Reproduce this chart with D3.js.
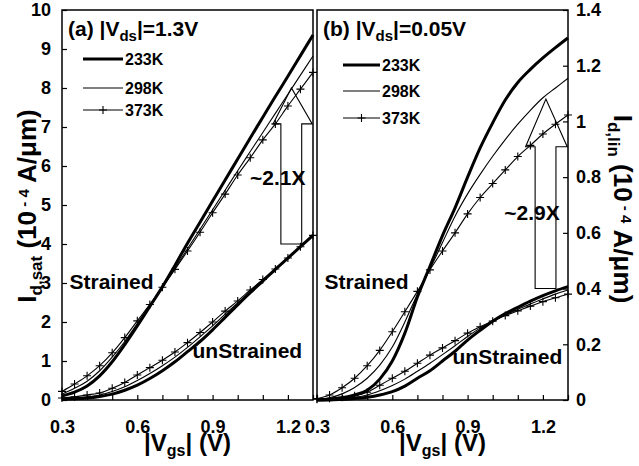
<!DOCTYPE html>
<html>
<head>
<meta charset="utf-8">
<script src="https://cdn.jsdelivr.net/npm/d3@7/dist/d3.min.js"></script>
<style>
body { margin: 0; background: #fff; }
svg text { font-family: Arial, "Liberation Sans", sans-serif; font-weight: bold; fill: #000; }
</style>
</head>
<body>
<svg width="639" height="466"></svg>
<script>
// gate voltage sweep (V)
var vgs = [0.3, 0.35, 0.4, 0.45, 0.5, 0.55, 0.6, 0.65, 0.7, 0.75, 0.8, 0.85, 0.9, 0.95, 1.0, 1.05, 1.1, 1.15, 1.2, 1.25, 1.3];
var temps = ["233K", "298K", "373K"];
var xTicks = [0.3, 0.4, 0.5, 0.6, 0.7, 0.8, 0.9, 1.0, 1.1, 1.2, 1.3];
var xTickLabels = [0.3, 0.6, 0.9, 1.2];
var satTicks = [0, 1, 2, 3, 4, 5, 6, 7, 8, 9, 10];
var linTicks = [0, 0.2, 0.4, 0.6, 0.8, 1.0, 1.2, 1.4];

// (a) Id,sat, |Vds|=1.3V  (1e-4 A/um)
var satStr233 = [0.1, 0.2, 0.36, 0.62, 0.98, 1.42, 1.9, 2.4, 2.9, 3.45, 4.02, 4.56, 5.1, 5.64, 6.18, 6.72, 7.25, 7.78, 8.3, 8.83, 9.36];
var satStr298 = [0.15, 0.3, 0.48, 0.75, 1.1, 1.5, 1.96, 2.42, 2.9, 3.38, 3.88, 4.38, 4.88, 5.38, 5.88, 6.37, 6.86, 7.35, 7.84, 8.33, 8.82];
var satStr373 = [0.22, 0.41, 0.62, 0.88, 1.21, 1.6, 2.03, 2.45, 2.89, 3.35, 3.82, 4.3, 4.8, 5.28, 5.77, 6.21, 6.67, 7.08, 7.54, 7.97, 8.4];
var satUns233 = [0.02, 0.03, 0.05, 0.09, 0.15, 0.25, 0.38, 0.55, 0.75, 0.98, 1.24, 1.5, 1.8, 2.12, 2.44, 2.75, 3.05, 3.35, 3.64, 3.93, 4.22];
var satUns298 = [0.03, 0.05, 0.08, 0.13, 0.22, 0.34, 0.5, 0.68, 0.88, 1.1, 1.35, 1.62, 1.9, 2.2, 2.49, 2.78, 3.07, 3.35, 3.64, 3.93, 4.21];
var satUns373 = [0.05, 0.08, 0.13, 0.18, 0.3, 0.45, 0.64, 0.83, 1.02, 1.23, 1.47, 1.73, 2.0, 2.28, 2.54, 2.82, 3.09, 3.36, 3.64, 3.93, 4.22];

// (b) Id,lin, |Vds|=0.05V  (1e-4 A/um)
var linStr233 = [0.0, 0.003, 0.008, 0.018, 0.035, 0.075, 0.14, 0.24, 0.37, 0.48, 0.59, 0.69, 0.8, 0.905, 0.995, 1.077, 1.14, 1.187, 1.228, 1.265, 1.3];
var linStr298 = [0.002, 0.008, 0.022, 0.045, 0.078, 0.125, 0.19, 0.28, 0.38, 0.47, 0.565, 0.66, 0.74, 0.81, 0.875, 0.935, 0.99, 1.04, 1.085, 1.12, 1.155];
var linStr373 = [0.005, 0.018, 0.044, 0.078, 0.123, 0.178, 0.245, 0.317, 0.39, 0.467, 0.535, 0.6, 0.668, 0.727, 0.777, 0.826, 0.874, 0.914, 0.955, 0.99, 1.023];
var linUns233 = [0.0, 0.0, 0.002, 0.005, 0.01, 0.018, 0.03, 0.05, 0.078, 0.105, 0.14, 0.175, 0.215, 0.25, 0.283, 0.31, 0.333, 0.355, 0.375, 0.392, 0.407];
var linUns298 = [0.001, 0.003, 0.006, 0.01, 0.018, 0.033, 0.052, 0.075, 0.103, 0.132, 0.163, 0.195, 0.228, 0.258, 0.283, 0.305, 0.325, 0.345, 0.363, 0.38, 0.395];
var linUns373 = [0.003, 0.006, 0.01, 0.015, 0.028, 0.053, 0.078, 0.103, 0.132, 0.161, 0.187, 0.213, 0.24, 0.263, 0.283, 0.303, 0.32, 0.337, 0.353, 0.367, 0.38];

var svg = d3.select("svg");
var plotTop = 10, plotBottom = 400;
var widths = [3, 1.1, 1.1];

var panels = [
  {
    left: 62, right: 313, yMax: 10, ticks: satTicks, side: "left",
    series: [[satStr233, satStr298, satStr373], [satUns233, satUns298, satUns373]],
    title: ["(a) |V", "ds", "|=1.3V"], titleX: 68,
    legendX: [83, 123], legendY: [59, 88, 110],
    arrow: { x0: 1.172, x1: 1.255, h0: 1.141, h1: 1.297, tip: 1.214, base: 4.0, neck: 7.08, apex: 8.0 },
    gain: "~2.1X", gainAt: [1.049, 5.51],
    strained: [0.33, 2.85], unstrained: [0.82, 1.08]
  },
  {
    left: 317, right: 568, yMax: 1.4, ticks: linTicks, side: "right",
    series: [[linStr233, linStr298, linStr373], [linUns233, linUns298, linUns373]],
    title: ["(b) |V", "ds", "|=0.05V"], titleX: 323,
    legendX: [343, 380], legendY: [65, 91, 118],
    arrow: { x0: 1.169, x1: 1.252, h0: 1.131, h1: 1.297, tip: 1.212, base: 0.4, neck: 0.909, apex: 1.08 },
    gain: "~2.9X", gainAt: [1.046, 0.646],
    strained: [0.33, 0.4], unstrained: [0.84, 0.13]
  }
];

function plus(g, px, py) {
  g.append("path")
    .attr("d", "M" + (px - 4) + "," + py + "H" + (px + 4) + "M" + px + "," + (py - 4) + "V" + (py + 4))
    .attr("stroke", "#000").attr("stroke-width", 1.1).attr("fill", "none");
}

panels.forEach(function(p) {
  var x = d3.scaleLinear().domain([0.3, 1.3]).range([p.left, p.right]);
  var y = d3.scaleLinear().domain([0, p.yMax]).range([plotBottom, plotTop]);
  var g = svg.append("g");

  var line = d3.line()
    .x(function(d, i) { return x(vgs[i]); })
    .y(function(d) { return y(d); })
    .curve(d3.curveMonotoneX);

  p.series.forEach(function(group) {
    group.forEach(function(vals, k) {
      g.append("path").datum(vals)
        .attr("d", line)
        .attr("fill", "none")
        .attr("stroke", "#000")
        .attr("stroke-width", widths[k]);
      if (k == 2) {
        vals.forEach(function(d, i) { plus(g, x(vgs[i]), y(d)); });
      }
    });
  });

  // hollow arrow
  var a = p.arrow;
  var pts = [[a.x0, a.base], [a.x0, a.neck], [a.h0, a.neck], [a.tip, a.apex], [a.h1, a.neck], [a.x1, a.neck], [a.x1, a.base]];
  g.append("path")
    .attr("d", "M" + pts.map(function(d) { return x(d[0]) + "," + y(d[1]); }).join("L") + "Z")
    .attr("fill", "none").attr("stroke", "#000").attr("stroke-width", 1.1);

  g.append("text").attr("x", x(p.gainAt[0])).attr("y", y(p.gainAt[1]))
    .attr("font-size", 21).text(p.gain);
  g.append("text").attr("x", x(p.strained[0])).attr("y", y(p.strained[1]))
    .attr("font-size", 21).text("Strained");
  g.append("text").attr("x", x(p.unstrained[0])).attr("y", y(p.unstrained[1]))
    .attr("font-size", 21).text("unStrained");

  // legend
  temps.forEach(function(t, k) {
    var ly = p.legendY[k];
    g.append("line").attr("x1", p.legendX[0]).attr("x2", p.legendX[1])
      .attr("y1", ly).attr("y2", ly)
      .attr("stroke", "#000").attr("stroke-width", widths[k]);
    if (k == 2) plus(g, (p.legendX[0] + p.legendX[1]) / 2, ly);
    g.append("text").attr("x", p.legendX[1] + 2).attr("y", ly + 6)
      .attr("font-size", 16).text(t);
  });

  var title = g.append("text").attr("x", p.titleX).attr("y", 36).attr("font-size", 21);
  title.append("tspan").text(p.title[0]);
  title.append("tspan").attr("font-size", 15).attr("dy", 5).text(p.title[1]);
  title.append("tspan").attr("dy", -5).text(p.title[2]);

  // axes
  var xa = g.append("g").attr("transform", "translate(0," + plotBottom + ")")
    .call(d3.axisBottom(x).tickValues(xTicks).tickSize(-5).tickPadding(20)
      .tickFormat(function(d) { return xTickLabels.indexOf(d) >= 0 ? d3.format(".1f")(d) : ""; }));
  xa.select(".domain").remove();
  xa.selectAll("text").attr("font-size", 18).attr("font-family", null);

  var ya;
  if (p.side == "left") {
    ya = g.append("g").attr("transform", "translate(" + p.left + ",0)")
      .call(d3.axisLeft(y).tickValues(p.ticks).tickSize(-5).tickPadding(11).tickFormat(d3.format("~g")));
  } else {
    ya = g.append("g").attr("transform", "translate(" + p.right + ",0)")
      .call(d3.axisRight(y).tickValues(p.ticks).tickSize(-5).tickPadding(8).tickFormat(d3.format("~g")));
  }
  ya.select(".domain").remove();
  ya.selectAll("text").attr("font-size", 18).attr("font-family", null);
  g.selectAll(".tick line").attr("stroke-width", 1.2);

  g.append("rect").attr("x", p.left).attr("y", plotTop)
    .attr("width", p.right - p.left).attr("height", plotBottom - plotTop)
    .attr("fill", "none").attr("stroke", "#000").attr("stroke-width", 1.5);

  var xl = g.append("text").attr("x", (p.left + p.right) / 2).attr("y", 451)
    .attr("text-anchor", "middle").attr("font-size", 24);
  xl.append("tspan").text("|V");
  xl.append("tspan").attr("font-size", 16).attr("dy", 5).text("gs");
  xl.append("tspan").attr("dy", -5).text("| (V)");
});

// y axis titles
var yl = svg.append("text").attr("transform", "translate(36,206) rotate(-90)")
  .attr("text-anchor", "middle").attr("font-size", 26);
yl.append("tspan").text("I");
yl.append("tspan").attr("font-size", 17).attr("dy", 6).text("d,sat");
yl.append("tspan").attr("dy", -6).text(" (10");
yl.append("tspan").attr("font-size", 15).attr("dy", -7).text(" - 4");
yl.append("tspan").attr("dy", 7).text(" A/\u03bcm)");

var yr = svg.append("text").attr("transform", "translate(614,209) rotate(90)")
  .attr("text-anchor", "middle").attr("font-size", 26);
yr.append("tspan").text("I");
yr.append("tspan").attr("font-size", 17).attr("dy", 6).text("d,lin");
yr.append("tspan").attr("dy", -6).text(" (10");
yr.append("tspan").attr("font-size", 15).attr("dy", -7).text(" - 4");
yr.append("tspan").attr("dy", 7).text(" A/\u03bcm)");
</script>
</body>
</html>
